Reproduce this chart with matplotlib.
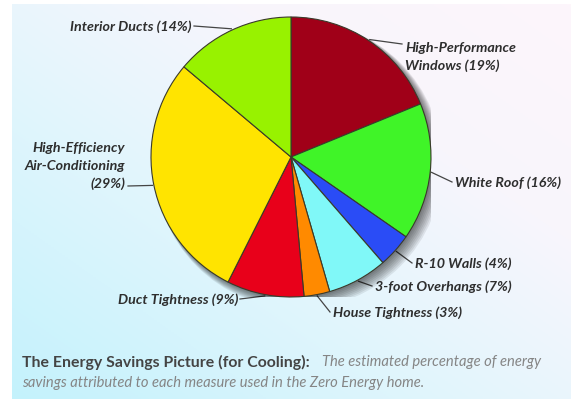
import numpy as np
import matplotlib
matplotlib.use("Agg")
import matplotlib.pyplot as plt
from matplotlib.colors import LinearSegmentedColormap
from matplotlib.patches import Circle

# Share of cooling energy savings per measure, clockwise from the top
measures = [
    "High-Performance\nWindows",
    "White Roof",
    "R-10 Walls",
    "3-foot Overhangs",
    "House Tightness",
    "Duct Tightness",
    "High-Efficiency\nAir-Conditioning\n",
    "Interior Ducts",
]
savings = [19, 16, 4, 7, 3, 9, 29, 14]
colors = ["#a00018", "#40f428", "#2a4cf6", "#80f8f8", "#ff8a00",
          "#e8001a", "#ffe400", "#98f200"]

# label text anchor (pixels), alignment
label_pos = [(405, 57, "left"), (455, 183, "left"), (415, 264, "left"),
             (375, 287, "left"), (333, 313, "left"), (238, 300, "right"),
             (125, 166, "right"), (191, 27, "right")]
# where each leader line meets the text (pixels)
leader_end = [(402, 45), (452, 183), (412, 264), (372, 287), (330, 313),
              (240, 300), (128, 187), (194, 27)]

W, H = 571, 402
cx, cy, R = 291, 158, 140

fig = plt.figure(figsize=(W / 100, H / 100), dpi=100)
fig.patch.set_facecolor("white")

# background panel with a diagonal cyan-to-pink wash
bg = fig.add_axes([0, 0, 1, 1])
bg.set_xlim(0, W)
bg.set_ylim(H, 0)
bg.axis("off")
xx, yy = np.meshgrid(np.linspace(0, 1, 200), np.linspace(0, 1, 200))
t = (xx + (1 - yy)) / 2
cmap = LinearSegmentedColormap.from_list(
    "wash", [(0, "#c4f2fc"), (0.45, "#e6f6fd"), (0.7, "#f8f5fc"), (1, "#fdf6fb")])
bg.imshow(t, cmap=cmap, extent=[12, W, 400, 5], aspect="auto", zorder=0)

# pie axes sized so the circle lands at (cx, cy) with radius R
ax = fig.add_axes([(cx - R) / W, 1 - (cy + R) / H, 2 * R / W, 2 * R / H])
ax.axis("off")

# soft drop shadow
for k in range(8):
    off = 0.012 + 0.006 * k
    ax.add_patch(Circle((off, -off), 1.0 + 0.004 * k, color="black",
                        alpha=0.08, lw=0, zorder=0))

wedges, _ = ax.pie(savings, colors=colors, startangle=90, counterclock=False,
                   radius=1.0,
                   wedgeprops=dict(edgecolor="#3a3a2a", linewidth=0.8))
for w in wedges:
    w.set_zorder(2)
ax.set_xlim(-1, 1)
ax.set_ylim(-1, 1)

# labels with leader lines, in pixel coordinates on the background axes
txt_kw = dict(fontsize=10.3, fontstyle="italic", fontweight="bold",
              color="#2e2e2e", family=["Lato", "DejaVu Sans"],
              linespacing=1.55)
for w, name, val, (tx, ty, ha), (lx, ly) in zip(wedges, measures, savings,
                                                  label_pos, leader_end):
    mid = np.deg2rad((w.theta1 + w.theta2) / 2)
    ex = cx + R * 1.01 * np.cos(mid)
    ey = cy - R * 1.01 * np.sin(mid)
    bg.plot([ex, lx], [ey, ly], color="#444444", lw=0.9, zorder=3)
    sep = "" if name.endswith("\n") else " "
    bg.text(tx, ty, f"{name}{sep}({val}%)", ha=ha, va="center", zorder=4,
            **txt_kw)

bg.text(22, 362, "The Energy Savings Picture (for Cooling):", fontsize=11.4,
        fontweight="bold", color="#444444", va="center", family="Lato")
bg.text(322, 362, "The estimated percentage of energy", fontsize=10.6,
        fontstyle="italic", color="#858585", va="center", family="Lato")
bg.text(22, 383, "savings attributed to each measure used in the Zero Energy home.",
        fontsize=10.6, fontstyle="italic", color="#858585", va="center", family="Lato")

fig.savefig("out.png", dpi=100)
